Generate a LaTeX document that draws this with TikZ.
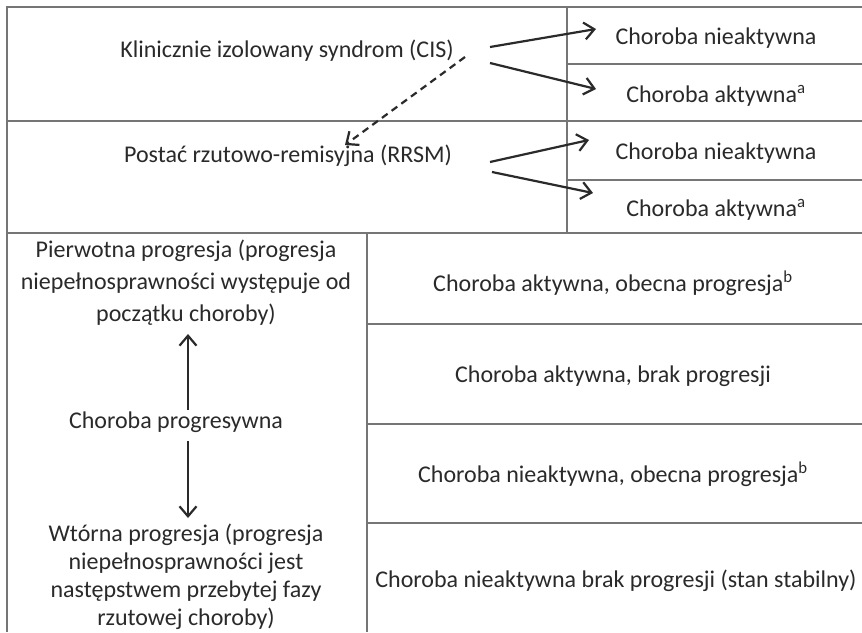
\documentclass[tikz,border=0pt]{standalone}
\usepackage{fontspec}
\setmainfont{Carlito}
\usetikzlibrary{arrows.meta}
\definecolor{gridc}{HTML}{767676}
\definecolor{txt}{HTML}{2A2A2A}
\begin{document}
\begin{tikzpicture}[x=1pt,y=-1pt,
  grid/.style={draw=gridc,line width=2pt},
  lbl/.style={text=txt,font=\fontsize{24}{32}\selectfont,inner sep=0pt,align=center},
  arr/.style={draw=txt,line width=2.2pt,-{Straight Barb[length=10pt,width=17pt,line width=2.2pt]}},
  darr/.style={arr,dash pattern=on 7pt off 5pt}]
\useasboundingbox (0,0) rectangle (862,632);
\fill[white] (0,0) rectangle (862,632);
% grid
\draw[grid] (7,632) -- (7,7) -- (862,7);
\draw[grid] (7,121) -- (862,121);
\draw[grid] (7,233) -- (862,233);
\draw[grid] (567,7) -- (567,233);
\draw[grid] (567,64) -- (862,64);
\draw[grid] (567,180) -- (862,180);
\draw[grid] (367,233) -- (367,632);
\draw[grid] (367,324) -- (862,324);
\draw[grid] (367,424) -- (862,424);
\draw[grid] (367,523) -- (862,523);
% texts
\node[lbl] (cis) at (287,51) {Klinicznie izolowany syndrom (CIS)};
\node[lbl] (n1) at (716,38) {Choroba nieaktywna};
\node[lbl] (a1) at (716,96) {Choroba aktywna\textsuperscript{a}};
\node[lbl] (rrsm) at (288,156) {Postać rzutowo-remisyjna (RRSM)};
\node[lbl] (n2) at (716,153) {Choroba nieaktywna};
\node[lbl] (a2) at (716,210) {Choroba aktywna\textsuperscript{a}};
\node[lbl] (pp) at (186,283) {Pierwotna progresja (progresja\\niepełnosprawności występuje od\\początku choroby)};
\node[lbl] (prog) at (176,422) {Choroba progresywna};
\node[lbl,anchor=north,font=\fontsize{24}{28}\selectfont] (sp) at (186,524) {Wtórna progresja (progresja\\niepełnosprawności jest\\następstwem przebytej fazy\\rzutowej choroby)};
\node[lbl] (r1) at (613,283) {Choroba aktywna, obecna progresja\textsuperscript{b}};
\node[lbl] (r2) at (613,376) {Choroba aktywna, brak progresji};
\node[lbl] (r3) at (613,474) {Choroba nieaktywna, obecna progresja\textsuperscript{b}};
\node[lbl] (r4) at (616,581) {Choroba nieaktywna brak progresji (stan stabilny)};
% arrow anchors
\coordinate (c1s) at (490,47);
\coordinate (c1e) at (596,29);
\coordinate (c2s) at (490,63);
\coordinate (c2e) at (596,89);
\coordinate (r1s) at (490,162);
\coordinate (r1e) at (589,140);
\coordinate (r2s) at (492,172);
\coordinate (r2e) at (593,193);
\coordinate (ds) at (465,57);
\coordinate (de) at (345,145);
\coordinate (upS) at (188,410);
\coordinate (upE) at (188,334);
\coordinate (dnS) at (188,441);
\coordinate (dnE) at (188,518);
\draw[arr] (c1s) -- (c1e);
\draw[arr] (c2s) -- (c2e);
\draw[arr] (r1s) -- (r1e);
\draw[arr] (r2s) -- (r2e);
\draw[darr] (ds) -- (de);
\draw[arr] (upS) -- (upE);
\draw[arr] (dnS) -- (dnE);
\end{tikzpicture}
\end{document}
